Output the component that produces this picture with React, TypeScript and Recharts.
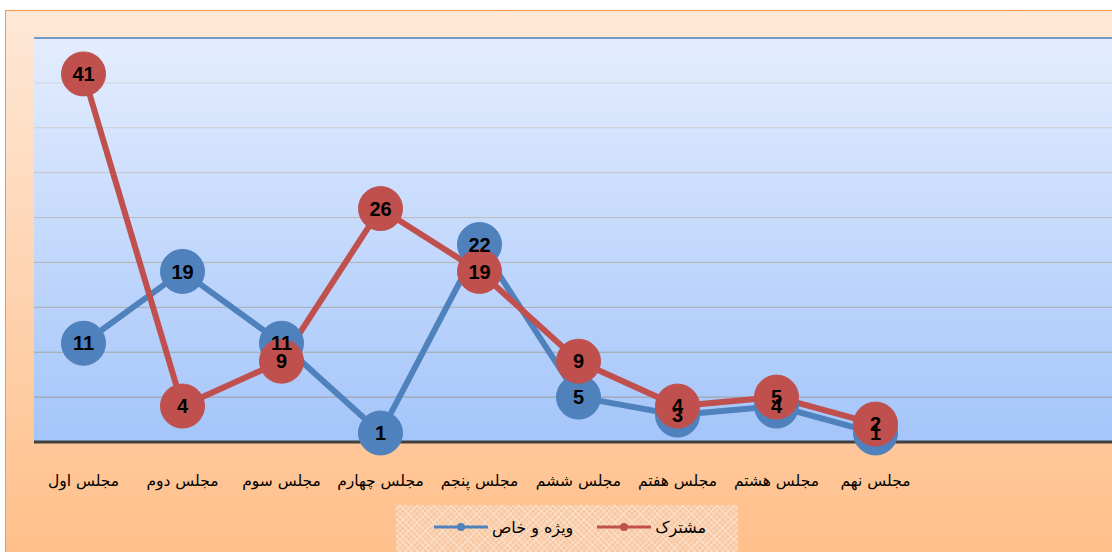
import { LineChart, Line, XAxis, YAxis, CartesianGrid, LabelList, Legend, ReferenceLine } from 'recharts';

const categories = [
  'مجلس اول',
  'مجلس دوم',
  'مجلس سوم',
  'مجلس چهارم',
  'مجلس پنجم',
  'مجلس ششم',
  'مجلس هفتم',
  'مجلس هشتم',
  'مجلس نهم',
];
const specialValues = [11, 19, 11, 1, 22, 5, 3, 4, 1];
const jointValues = [41, 4, 9, 26, 19, 9, 4, 5, 2];
const yTicks = [0, 5, 10, 15, 20, 25, 30, 35, 40, 45];

const SPECIAL_NAME = 'ویژه و خاص';
const JOINT_NAME = 'مشترک';
const BLUE = '#4F81BD';
const RED = '#C0504D';

const data = categories.map((name, i) => ({
  name,
  special: specialValues[i],
  joint: jointValues[i],
}));

const CategoryTick = ({ x, y, payload }: any) => (
  <text
    x={x}
    y={y + 31}
    textAnchor="middle"
    dominantBaseline="central"
    fontFamily="'DejaVu Sans', sans-serif"
    fontSize={15.5}
    fill="#000"
  >
    {payload.value}
  </text>
);

const LegendBox = () => {
  const item = (color: string, label: string) => (
    <div style={{ display: 'flex', alignItems: 'center', gap: 4 }}>
      <svg width={54} height={10}>
        <line x1={0} y1={5} x2={54} y2={5} stroke={color} strokeWidth={3} />
        <circle cx={27} cy={5} r={4} fill={color} />
      </svg>
      <span style={{ fontFamily: "'DejaVu Sans', sans-serif", fontSize: 16, color: '#000' }}>{label}</span>
    </div>
  );
  return (
    <div
      style={{
        width: 342,
        height: 48,
        boxSizing: 'border-box',
        display: 'flex',
        alignItems: 'center',
        justifyContent: 'space-around',
        padding: '0 20px 4px 26px',
        backgroundColor: '#F8C9A2',
        backgroundImage:
          'repeating-linear-gradient(45deg, rgba(255,255,255,0.35) 0 1px, transparent 1px 4px), repeating-linear-gradient(-45deg, rgba(255,255,255,0.35) 0 1px, transparent 1px 4px)',
      }}
    >
      {item(BLUE, SPECIAL_NAME)}
      {item(RED, JOINT_NAME)}
    </div>
  );
};

const labelStyle = {
  fill: '#000',
  fontSize: 20,
  fontWeight: 700,
  fontFamily: "'Liberation Sans Narrow', 'Liberation Sans', sans-serif",
};

export default function App() {
  return (
    <div style={{ position: 'fixed', left: 0, top: 0, width: 1112, height: 552, overflow: 'hidden', background: '#fff' }}>
      <div
        style={{
          position: 'absolute',
          left: 5,
          top: 10,
          width: 1140,
          height: 560,
          border: '1.5px solid #F79646',
          background: 'linear-gradient(#FEE8D7, #FFBE88)',
        }}
      />
      <div style={{ position: 'absolute', left: 0, top: 0 }}>
        <LineChart
          width={1140}
          height={552}
          data={data}
          margin={{ top: 38, left: 34, right: 17, bottom: 32 }}
        >
          <defs>
            <linearGradient id="plotFill" x1="0" y1="0" x2="0" y2="1">
              <stop offset="0%" stopColor="#E4EDFE" />
              <stop offset="100%" stopColor="#A4C5FA" />
            </linearGradient>
            {/* grid lines fade from light at the top to darker gray at the bottom */}
            <linearGradient id="gridStroke" gradientUnits="userSpaceOnUse" x1="0" y1="38" x2="0" y2="442">
              <stop offset="0%" stopColor="#dcdcdc" />
              <stop offset="100%" stopColor="#939393" />
            </linearGradient>
          </defs>
          <CartesianGrid vertical={false} fill="url(#plotFill)" stroke="url(#gridStroke)" />
          <XAxis
            dataKey="name"
            scale="point"
            interval={0}
            padding={{ left: 49.5, right: 247.5 }}
            axisLine={{ stroke: '#404040', strokeWidth: 3 }}
            tickLine={false}
            tick={<CategoryTick />}
            height={30}
          />
          <YAxis
            width={0}
            domain={[0, 45]}
            ticks={yTicks}
            tick={() => <g />}
            tickLine={false}
            axisLine={{ stroke: BLUE, strokeWidth: 1.5 }}
          />
          <ReferenceLine y={45} stroke={BLUE} strokeWidth={1.5} />
          <Legend
            content={<LegendBox />}
            verticalAlign="bottom"
            wrapperStyle={{ left: 396, top: 505, width: 342, height: 48 }}
          />
          <Line
            dataKey="special"
            name={SPECIAL_NAME}
            stroke={BLUE}
            strokeWidth={6}
            dot={{ r: 22, fill: BLUE, stroke: BLUE, strokeWidth: 1 }}
            activeDot={false}
            isAnimationActive={false}
          />
          <Line
            dataKey="joint"
            name={JOINT_NAME}
            stroke={RED}
            strokeWidth={6}
            dot={{ r: 22, fill: RED, stroke: RED, strokeWidth: 1 }}
            activeDot={false}
            isAnimationActive={false}
          />
          <Line dataKey="special" stroke="none" dot={false} activeDot={false} legendType="none" isAnimationActive={false}>
            <LabelList dataKey="special" position="center" style={labelStyle} />
          </Line>
          <Line dataKey="joint" stroke="none" dot={false} activeDot={false} legendType="none" isAnimationActive={false}>
            <LabelList dataKey="joint" position="center" style={labelStyle} />
          </Line>
        </LineChart>
      </div>
    </div>
  );
}
